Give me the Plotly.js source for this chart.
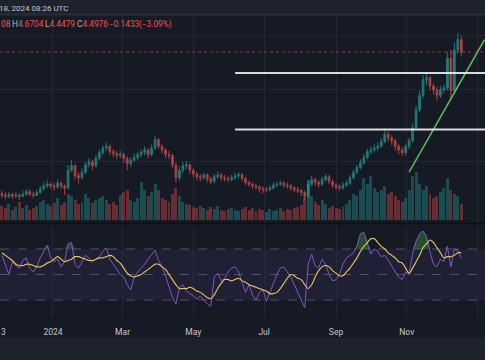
<!DOCTYPE html>
<html><head><meta charset="utf-8">
<script src="https://cdn.plot.ly/plotly-3.0.1.min.js"></script>
<style>html,body{margin:0;padding:0;background:#161a25;}#chart{width:485px;height:360px;}</style>
</head><body><div id="chart"></div>
<script>
// ---- data (3-day candles) ----
const startDate = '2023-11-18';
const stepDays = 3;
const firstOpen = 2.97;
const closes = [2.95,2.94,2.96,2.94,2.95,2.94,2.96,2.99,2.96,2.95,
 2.98,3.02,3.05,3.07,3.05,3.04,3.08,3.05,3.03,3.22,
 3.27,3.16,3.14,3.20,3.28,3.31,3.27,3.35,3.41,3.46,
 3.48,3.42,3.40,3.38,3.39,3.35,3.29,3.33,3.36,3.39,
 3.41,3.44,3.39,3.46,3.55,3.48,3.44,3.39,3.38,3.28,
 3.14,3.22,3.27,3.28,3.22,3.18,3.15,3.14,3.17,3.13,
 3.10,3.15,3.17,3.14,3.13,3.12,3.14,3.16,3.17,3.13,
 3.09,3.07,3.05,3.04,3.02,3.01,3.01,3.03,3.06,3.07,
 3.08,3.06,3.05,3.03,3.01,3.00,2.98,2.94,3.07,3.12,
 3.09,3.07,3.12,3.15,3.10,3.06,3.04,3.03,3.06,3.08,
 3.14,3.20,3.25,3.30,3.36,3.42,3.44,3.46,3.48,3.53,
 3.61,3.57,3.54,3.48,3.44,3.41,3.48,3.54,3.68,3.87,
 4.03,4.20,4.22,4.13,4.09,4.03,4.09,4.11,4.43,4.08,
 4.52,4.63,4.4976];
const highs = [3.00,2.98,2.99,2.98,2.99,2.97,3.00,3.02,3.01,2.99,
 3.01,3.05,3.09,3.11,3.09,3.08,3.12,3.10,3.07,3.28,
 3.33,3.29,3.20,3.24,3.31,3.35,3.33,3.39,3.44,3.49,
 3.52,3.50,3.45,3.43,3.43,3.41,3.37,3.36,3.40,3.42,
 3.45,3.48,3.46,3.50,3.59,3.57,3.50,3.46,3.43,3.40,
 3.30,3.26,3.31,3.32,3.30,3.24,3.20,3.18,3.20,3.19,
 3.15,3.18,3.21,3.19,3.17,3.16,3.17,3.19,3.20,3.19,
 3.15,3.11,3.09,3.08,3.06,3.05,3.04,3.06,3.09,3.10,
 3.11,3.10,3.09,3.07,3.05,3.04,3.02,3.00,3.11,3.16,
 3.14,3.11,3.15,3.18,3.17,3.12,3.08,3.07,3.09,3.11,
 3.17,3.23,3.28,3.34,3.40,3.45,3.48,3.50,3.52,3.57,
 3.66,3.64,3.60,3.56,3.50,3.47,3.51,3.57,3.72,3.92,
 4.08,4.25,4.27,4.24,4.16,4.12,4.13,4.15,4.50,4.52,
 4.60,4.70,4.6704];
const lows = [2.92,2.91,2.92,2.91,2.92,2.90,2.93,2.95,2.94,2.92,
 2.94,2.97,3.00,3.03,3.02,3.00,3.02,3.02,2.95,3.01,
 3.20,3.12,3.08,3.12,3.18,3.25,3.22,3.25,3.33,3.39,
 3.43,3.39,3.36,3.34,3.35,3.30,3.22,3.26,3.31,3.33,
 3.36,3.38,3.35,3.37,3.44,3.45,3.40,3.35,3.34,3.24,
 3.09,3.11,3.19,3.23,3.18,3.14,3.11,3.10,3.12,3.09,
 3.07,3.08,3.13,3.11,3.10,3.09,3.10,3.12,3.13,3.10,
 3.06,3.04,3.02,3.01,2.98,2.97,2.98,2.99,3.01,3.04,
 3.05,3.03,3.02,3.00,2.98,2.97,2.94,2.89,2.92,3.05,
 3.05,3.03,3.05,3.10,3.07,3.03,3.01,3.00,3.01,3.04,
 3.06,3.12,3.18,3.23,3.28,3.34,3.39,3.41,3.43,3.46,
 3.51,3.53,3.49,3.43,3.39,3.37,3.38,3.45,3.52,3.66,
 3.85,4.00,4.14,4.08,4.04,3.97,4.00,4.05,4.08,3.98,
 4.05,4.48,4.4479];
const volumes = [14,12,16,10,13,18,12,15,10,12,
 14,18,20,16,14,17,22,15,18,26,
 24,20,16,18,26,22,17,20,22,24,
 20,16,18,15,25,28,30,20,18,22,
 38,30,24,28,36,30,22,20,18,26,
 32,24,18,16,15,13,12,14,12,10,
 13,11,14,10,9,11,12,10,9,11,
 13,10,12,9,11,10,8,11,9,10,
 12,9,11,10,12,13,15,22,40,24,
 18,15,20,16,12,14,12,11,13,16,
 20,26,24,30,42,36,44,32,28,30,
 34,26,28,24,20,18,22,30,44,48,
 36,30,34,26,22,24,28,32,42,30,
 26,24,16];
const rsi = [65,57,50,60,57,55,61,63,55,52,
 56,63,68,73,63,60,62,56,60,74,
 75,58,55,60,65,63,60,62,64,68,
 71,62,58,54,50,48,42,38,48,52,
 55,58,62,66,69,61,56,49,40,32,
 27,40,42,37,35,33,31,33,30,27,
 25,48,51,45,47,52,55,56,52,44,
 36,42,34,30,36,38,29,36,43,50,
 55,56,52,48,42,36,30,24,58,66,
 57,55,62,58,50,45,46,50,58,63,
 65,67,72,82,83,75,66,70,68,64,
 65,61,57,52,48,46,52,50,66,76,
 82,84,80,68,58,56,62,60,72,56,
 70,69,63];
const rsiMA = [67,65,63,61,58,57,57,58,58,57,
 56,56,57,59,60,62,64,62,60,61,
 62,64,64,63,62,61,61,62,63,63,
 64,65,64,61,59,55,51,49,48,49,
 50,52,54,56,58,58,56,54,50,46,
 42,39,39,39,40,39,37,36,34,32,
 31,34,39,43,46,46,45,46,47,45,
 44,42,41,40,39,38,37,35,35,36,
 39,43,47,50,49,47,46,42,39,42,
 48,53,56,57,56,53,51,49,49,52,
 55,59,63,68,72,75,78,78,75,72,
 70,67,65,63,60,59,55,51,55,60,
 65,71,74,77,75,71,67,63,64,64,
 65,67,67];
const tickDates = ['2024-01-01','2024-03-01','2024-05-01','2024-07-01','2024-09-01','2024-11-01','2025-01-01'];
const tickLabels = ['2024','Mar','May','Jul','Sep','Nov','2025'];
const xRange = ['2023-11-16 08:00','2025-01-07 10:00'];
const levelPrices = [4.27, 3.66];
const levelStart = '2024-06-06';
const trendDates = ['2024-11-03','2025-01-07'];
const trendPrices = [3.20, 4.63];
const gridPrices = [4.68, 4.09, 3.31];
const rsiLevels = [70, 50, 30];
const headerDate = '18, 2024 08:26 UTC';
const ohlcLabels = ['', 'H', 'L', 'C', '', ''];
const ohlcValues = ['08', '4.6704', '4.4479', '4.4976', '\u22120.1433', '(\u22123.09%)'];

// ---- build ----
const DAY = 86400000;
const t0 = Date.parse(startDate + 'T00:00:00Z');
const dates = closes.map((_, i) => new Date(t0 + i * stepDays * DAY).toISOString().slice(0, 10));
const opens = [firstOpen].concat(closes.slice(0, -1));
const UP = '#26a69a', DN = '#ef5350';
const volColors = closes.map((c, i) => c >= opens[i] ? 'rgba(38,166,154,0.36)' : 'rgba(239,83,80,0.36)');
const obUpper = rsi.map(v => Math.max(v, rsiLevels[0]));
const obBase = rsi.map(() => rsiLevels[0]);
const lastClose = closes[closes.length - 1];

const traces = [
  {type:'bar', x:dates, y:volumes, xaxis:'x', yaxis:'y2', marker:{color:volColors, line:{width:0}},
   width: stepDays*DAY*0.85, hoverinfo:'skip'},
  {type:'candlestick', x:dates, open:opens, high:highs, low:lows, close:closes, xaxis:'x', yaxis:'y',
   increasing:{line:{color:UP, width:1}, fillcolor:UP},
   decreasing:{line:{color:DN, width:1}, fillcolor:DN}, whiskerwidth:0, opacity:0.68, hoverinfo:'skip'},
  {type:'scatter', mode:'lines', x:trendDates, y:trendPrices, xaxis:'x', yaxis:'y',
   line:{color:'#5fb85f', width:1.5}, hoverinfo:'skip'},
  {type:'scatter', mode:'lines', x:dates, y:obBase, xaxis:'x', yaxis:'y3', line:{width:0}, hoverinfo:'skip'},
  {type:'scatter', mode:'lines', x:dates, y:obUpper, xaxis:'x', yaxis:'y3', line:{width:0},
   fill:'tonexty', fillcolor:'rgba(56,142,60,0.45)', hoverinfo:'skip'},
  {type:'scatter', mode:'lines', x:dates, y:rsi, xaxis:'x', yaxis:'y3', line:{color:'#7e57c2', width:1}, hoverinfo:'skip'},
  {type:'scatter', mode:'lines', x:dates, y:rsiMA, xaxis:'x', yaxis:'y3', line:{color:'#e8c95a', width:1.1, shape:'spline'}, hoverinfo:'skip'}
];

const H = 360;
const frac = px => (H - px) / H;
const gridCol = 'rgba(42,46,57,0.7)';
const shapes = [
  {type:'rect', xref:'paper', yref:'paper', x0:0, x1:1, y0:frac(14), y1:1, fillcolor:'#1e222d', line:{width:0}, layer:'below'},
  {type:'line', xref:'paper', yref:'paper', x0:0, x1:1, y0:frac(14.5), y1:frac(14.5), line:{color:'#2a2e39', width:2}, layer:'below'},
  {type:'rect', xref:'paper', yref:'paper', x0:0, x1:1, y0:0, y1:frac(338), fillcolor:'#1e222d', line:{width:0}, layer:'below'},
  {type:'line', xref:'paper', yref:'paper', x0:0, x1:1, y0:frac(223.5), y1:frac(223.5), line:{color:'#0e1018', width:2}, layer:'below'},
  {type:'rect', xref:'paper', yref:'y3', x0:0, x1:1, y0:rsiLevels[2], y1:rsiLevels[0], fillcolor:'rgba(126,87,194,0.1)', line:{width:0}, layer:'below'},
  {type:'line', xref:'paper', yref:'y', x0:0, x1:1, y0:lastClose, y1:lastClose, line:{color:'rgba(239,83,80,0.5)', width:1, dash:'dot'}}
];
rsiLevels.forEach(v => shapes.push({type:'line', xref:'paper', yref:'y3', x0:0, x1:1, y0:v, y1:v,
  line:{color:'rgba(120,123,134,0.55)', width:1, dash:'dash'}, layer:'below'}));
levelPrices.forEach(v => shapes.push({type:'line', xref:'x', yref:'y', x0:levelStart, x1:xRange[1], y0:v, y1:v,
  line:{color:'rgba(235,236,240,0.92)', width:2}}));

const R = '#ef5350', G = '#b2b5be';
const ohlcX = [-1, 10, 43, 75, 107, 137];
const annotations = [
  {xref:'paper', yref:'paper', x:0, y:frac(8.5), xanchor:'left', yanchor:'middle', xshift:-3, showarrow:false,
   text:headerDate, font:{size:8, color:'#c3c6ce'}},
  {xref:'paper', yref:'paper', x:0, y:frac(332), xanchor:'left', yanchor:'middle', xshift:-1, showarrow:false,
   text:'3', font:{size:8.5, color:'#c3c6ce'}}
];
ohlcValues.forEach((v, k) => annotations.push({xref:'paper', yref:'paper', x:0, y:frac(24.5), xanchor:'left', yanchor:'middle',
  xshift:ohlcX[k], showarrow:false,
  text:(ohlcLabels[k] ? `<span style="color:${G}">${ohlcLabels[k]}</span>` : '') + `<span style="color:${R}">${v}</span>`,
  font:{size:8.3, color:R}}));

const layout = {
  width:485, height:360, margin:{l:0, r:0, t:0, b:0},
  paper_bgcolor:'#161a25', plot_bgcolor:'rgba(0,0,0,0)',
  showlegend:false, dragmode:false, bargap:0,
  font:{family:'Roboto, "DejaVu Sans", sans-serif', color:'#b2b5be', size:8},
  xaxis:{type:'date', range:xRange, domain:[0,1], anchor:'y3', rangeslider:{visible:false},
    showgrid:true, gridcolor:gridCol, gridwidth:1, zeroline:false, showline:false, ticks:'',
    tickvals:tickDates, ticktext:tickLabels, tickfont:{size:8.5, color:'#c3c6ce'}, ticklabelstandoff:7},
  yaxis:{domain:[frac(222), frac(16)], range:[2.6616, 4.8864], showgrid:true, gridcolor:gridCol,
    tickvals:gridPrices, showticklabels:false, zeroline:false, showline:false, ticks:''},
  yaxis2:{overlaying:'y', range:[-2, 204], showgrid:false, showticklabels:false, zeroline:false, visible:false},
  yaxis3:{domain:[frac(318), frac(225)], range:[15.9, 88.8], showgrid:false, showticklabels:false, zeroline:false, showline:false, ticks:''},
  shapes:shapes,
  annotations:annotations
};

Plotly.newPlot('chart', traces, layout, {staticPlot:true, displayModeBar:false});
</script>
</body></html>
